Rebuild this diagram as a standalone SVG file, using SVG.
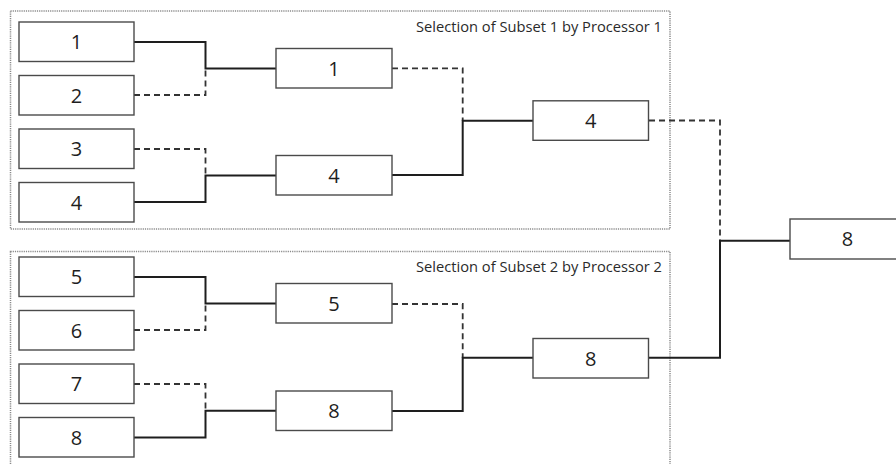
<svg xmlns="http://www.w3.org/2000/svg" width="896" height="464" viewBox="0 0 896 464">
<style>
.panel{fill:none;stroke:#8a8a8a;stroke-width:1.5;stroke-dasharray:1.2 1}
.box rect{fill:#fff;stroke:#4a4a4a;stroke-width:1.4}
.box text{font-family:"Open Sans","Liberation Sans",sans-serif;font-size:20px;fill:#1e1e1e;text-anchor:middle}
.lbl{font-family:"Open Sans","Liberation Sans",sans-serif;font-size:15px;fill:#2a2a2a;text-anchor:end}
.solid{fill:none;stroke:#1e1e1e;stroke-width:2}
.dash{fill:none;stroke:#333;stroke-width:1.8;stroke-dasharray:6 4}
</style>
<rect width="896" height="464" fill="#fff"/>
<g id="panel1">
<rect class="panel" x="10.5" y="11" width="659.5" height="218"/>
<text class="lbl" x="662" y="31.5" textLength="246" lengthAdjust="spacingAndGlyphs">Selection of Subset 1 by Processor 1</text>
</g>
<g id="panel2">
<rect class="panel" x="10.5" y="251.5" width="659.5" height="220"/>
<text class="lbl" x="662" y="272" textLength="246" lengthAdjust="spacingAndGlyphs">Selection of Subset 2 by Processor 2</text>
</g>
<g id="connectors">
<path class="solid" d="M134,42 H205.5 V68.5 H276"/>
<path class="dash" d="M134,95 H205.5 V68.5"/>
<path class="dash" d="M134,149 H205.5 V175.5"/>
<path class="solid" d="M134,202 H205.5 V175.5 H276"/>
<path class="dash" d="M392,68.3 H462.7 V120.7"/>
<path class="solid" d="M392,175 H462.7 V120.7 H533"/>
<path class="solid" d="M134,277 H205.5 V303.5 H276"/>
<path class="dash" d="M134,330 H205.5 V303.5"/>
<path class="dash" d="M134,384 H205.5 V410.7"/>
<path class="solid" d="M134,437.5 H205.5 V410.7 H276"/>
<path class="dash" d="M392,304 H462.7 V357.7"/>
<path class="solid" d="M392,411 H462.7 V357.7 H533"/>
<path class="dash" d="M649,120.5 H720 V240.7"/>
<path class="solid" d="M649,357.7 H720 V240.7 H790"/>
</g>
<g id="n1" class="box"><rect x="19" y="22" width="115" height="39.5"/><text x="76.5" y="49">1</text></g>
<g id="n2" class="box"><rect x="19" y="75.5" width="115" height="39.5"/><text x="76.5" y="102.5">2</text></g>
<g id="n3" class="box"><rect x="19" y="129" width="115" height="39.5"/><text x="76.5" y="156">3</text></g>
<g id="n4" class="box"><rect x="19" y="182.5" width="115" height="39.5"/><text x="76.5" y="209.5">4</text></g>
<g id="n5" class="box"><rect x="19" y="257" width="115" height="39.5"/><text x="76.5" y="284">5</text></g>
<g id="n6" class="box"><rect x="19" y="310.5" width="115" height="39.5"/><text x="76.5" y="337.5">6</text></g>
<g id="n7" class="box"><rect x="19" y="364" width="115" height="39.5"/><text x="76.5" y="391">7</text></g>
<g id="n8" class="box"><rect x="19" y="417.5" width="115" height="39.5"/><text x="76.5" y="444.5">8</text></g>
<g id="w12" class="box"><rect x="276" y="48.5" width="116" height="39.5"/><text x="334" y="75.5">1</text></g>
<g id="w34" class="box"><rect x="276" y="155.5" width="116" height="39.5"/><text x="334" y="182.5">4</text></g>
<g id="w56" class="box"><rect x="276" y="283.5" width="116" height="39.5"/><text x="334" y="310.5">5</text></g>
<g id="w78" class="box"><rect x="276" y="391" width="116" height="39.5"/><text x="334" y="418">8</text></g>
<g id="s1" class="box"><rect x="533" y="100.8" width="115.5" height="39.5"/><text x="590.7" y="127.8">4</text></g>
<g id="s2" class="box"><rect x="533" y="338.5" width="115.5" height="39.5"/><text x="590.7" y="365.5">8</text></g>
<g id="final" class="box"><rect x="790" y="219" width="116" height="40"/><text x="847.5" y="246">8</text></g>
</svg>
